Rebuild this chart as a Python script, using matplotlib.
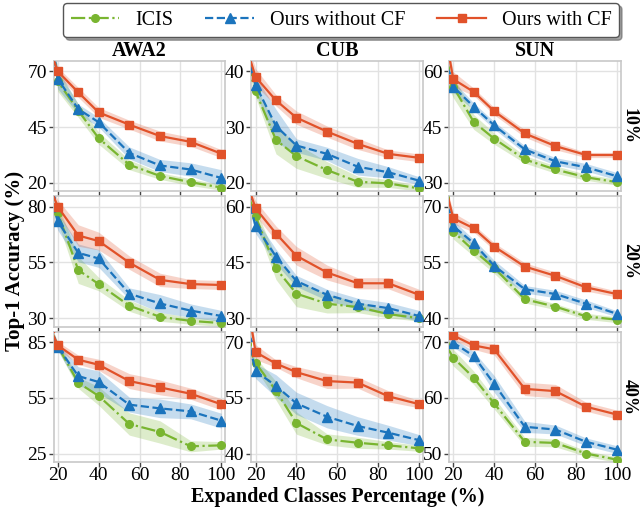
import matplotlib
matplotlib.use("Agg")
import matplotlib.pyplot as plt
import numpy as np

plt.rcParams['font.family'] = ['Liberation Serif', 'DejaVu Serif']
plt.rcParams['mathtext.fontset'] = 'stix'

# ---------------- data ----------------
x_pct = [16, 20, 30, 40, 55, 70, 85, 100]
datasets = ['AWA2', 'CUB', 'SUN']
ratios = ['10%', '20%', '40%']
series_names = ['ICIS', 'Ours without CF', 'Ours with CF']
x_ticks = [20, 40, 60, 80, 100]

# AWA2
awa2_10_icis = [92, 65.5, 52.4, 40.0, 28.1, 23.1, 20.3, 17.9]
awa2_10_wo = [90, 66.6, 53.1, 47.2, 33.4, 27.8, 26.0, 22.2]
awa2_10_w = [80, 70.0, 60.6, 51.6, 46.1, 41.0, 38.4, 33.1]
awa2_10_icis_sd = [4.5, 4.5, 3, 2.7, 2.2, 1.5, 1.5, 1.2]
awa2_10_wo_sd = [4.5, 4.5, 2.2, 2.2, 2.7, 2.7, 3, 3.7]
awa2_10_w_sd = [2, 1.8, 2.2, 2.2, 2, 2.2, 2, 1.8]

awa2_20_icis = [84, 77.1, 51.6, 45.3, 35.6, 30.6, 28.8, 27.8]
awa2_20_wo = [86, 73.4, 59.3, 56.8, 41.0, 36.6, 33.4, 31.0]
awa2_20_w = [89, 80.0, 67.1, 64.6, 54.9, 47.2, 45.3, 44.9]
awa2_20_icis_sd = [4, 4, 6, 3, 2.5, 2, 1.5, 1.5]
awa2_20_wo_sd = [4, 4, 4, 4, 2.6, 4, 3, 2.5]
awa2_20_w_sd = [3, 3, 4.8, 4, 3, 3, 2, 2]

awa2_40_icis = [93.3, 82.8, 63.1, 56.0, 40.9, 36.6, 28.9, 29.4]
awa2_40_wo = [94, 82.3, 66.7, 63.5, 51.3, 49.3, 47.7, 42.7]
awa2_40_w = [92.7, 83.2, 75.5, 72.8, 64.0, 60.6, 57.2, 51.5]
awa2_40_icis_sd = [2, 2, 3, 5, 6, 6, 3, 2]
awa2_40_wo_sd = [2, 2, 5, 6, 4, 5, 4, 4]
awa2_40_w_sd = [2, 2, 2.5, 3, 4, 4, 3, 3]

# CUB
cub_10_icis = [41.6, 36.4, 27.7, 24.8, 22.3, 20.2, 19.9, 19.0]
cub_10_wo = [42.9, 37.6, 30.2, 26.7, 25.2, 22.9, 21.9, 20.4]
cub_10_w = [43.8, 39.0, 34.8, 31.7, 29.2, 27.0, 25.2, 24.5]
cub_10_icis_sd = [1, 1, 2.5, 2.2, 1.5, 1, 0.7, 0.5]
cub_10_wo_sd = [1.5, 1.5, 3, 1.2, 1.2, 1.5, 1, 0.7]
cub_10_w_sd = [1.5, 1.5, 1, 1.2, 1, 1, 0.7, 0.7]

cub_20_icis = [63.8, 57.5, 43.4, 36.6, 33.9, 33.0, 31.1, 30.0]
cub_20_wo = [63.3, 54.8, 46.6, 40.0, 36.3, 33.9, 32.7, 30.6]
cub_20_w = [66.1, 59.6, 52.8, 46.8, 42.3, 39.4, 39.4, 36.3]
cub_20_icis_sd = [2, 2, 3, 3.5, 2.5, 1.5, 1, 0.8]
cub_20_wo_sd = [2, 2, 2, 1.5, 1.5, 1.5, 1.5, 1.5]
cub_20_w_sd = [2, 2, 2, 2.5, 2, 1.5, 1.5, 1.5]

cub_40_icis = [69.4, 64.4, 56.9, 48.2, 43.8, 42.9, 42.2, 41.4]
cub_40_wo = [71.7, 62.2, 58.2, 53.5, 49.9, 47.4, 45.6, 43.6]
cub_40_w = [80.8, 67.3, 64.2, 61.9, 59.5, 59.1, 55.4, 53.3]
cub_40_icis_sd = [1.5, 1.5, 2.5, 3, 1.5, 1.5, 1, 0.8]
cub_40_wo_sd = [2, 2, 3, 3, 3, 2.5, 2, 1.5]
cub_40_w_sd = [2, 2, 1, 1.5, 2, 1.5, 1.5, 1]

# SUN
sun_10_icis = [60.9, 55.9, 46.4, 41.9, 36.3, 33.6, 31.5, 30.2]
sun_10_wo = [60.9, 55.9, 50.5, 45.5, 39.0, 35.8, 34.2, 31.8]
sun_10_w = [70.4, 57.9, 54.5, 49.3, 43.3, 39.9, 37.5, 37.5]
sun_10_icis_sd = [3, 3, 2, 1.5, 1, 1, 0.8, 0.8]
sun_10_wo_sd = [1.5, 1.5, 1, 1, 1, 1, 1, 1]
sun_10_w_sd = [2, 2, 1, 1, 1, 1, 0.7, 0.7]

sun_20_icis = [72.3, 63.3, 58.2, 53.6, 45.1, 43.1, 40.5, 39.6]
sun_20_wo = [70, 64.8, 60.2, 54.1, 47.8, 46.5, 43.9, 41.2]
sun_20_w = [75.7, 66.9, 64.2, 59.3, 53.9, 51.4, 48.3, 46.5]
sun_20_icis_sd = [2, 2, 1.5, 1.5, 1, 0.8, 0.8, 0.8]
sun_20_wo_sd = [1.5, 1.5, 1, 1.5, 1, 1, 1, 0.8]
sun_20_w_sd = [1.5, 1.5, 1, 1, 1, 1, 1, 0.8]

sun_40_icis = [69.7, 67.2, 63.6, 59.0, 52.1, 51.9, 50.0, 48.9]
sun_40_wo = [71.7, 69.9, 67.5, 62.5, 54.8, 54.3, 52.1, 50.7]
sun_40_w = [72.5, 71.2, 69.4, 68.7, 61.6, 61.2, 58.4, 57.0]
sun_40_icis_sd = [1.5, 1.5, 1.2, 1, 0.8, 0.7, 0.5, 0.5]
sun_40_wo_sd = [0.8, 0.8, 0.8, 1.5, 1, 0.8, 0.7, 0.7]
sun_40_w_sd = [0.8, 0.8, 0.7, 1, 1.2, 1.2, 0.8, 0.8]

# y tick values per panel (rows: 10%, 20%, 40%; cols: AWA2, CUB, SUN)
awa2_yticks = [[20, 45, 70], [30, 55, 80], [25, 55, 85]]
cub_yticks = [[20, 30, 40], [30, 45, 60], [40, 55, 70]]
sun_yticks = [[30, 45, 60], [40, 55, 70], [50, 60, 70]]

# ---------------- assemble ----------------
panels = {
    ('AWA2', 0): ([awa2_10_icis, awa2_10_wo, awa2_10_w], [awa2_10_icis_sd, awa2_10_wo_sd, awa2_10_w_sd]),
    ('AWA2', 1): ([awa2_20_icis, awa2_20_wo, awa2_20_w], [awa2_20_icis_sd, awa2_20_wo_sd, awa2_20_w_sd]),
    ('AWA2', 2): ([awa2_40_icis, awa2_40_wo, awa2_40_w], [awa2_40_icis_sd, awa2_40_wo_sd, awa2_40_w_sd]),
    ('CUB', 0): ([cub_10_icis, cub_10_wo, cub_10_w], [cub_10_icis_sd, cub_10_wo_sd, cub_10_w_sd]),
    ('CUB', 1): ([cub_20_icis, cub_20_wo, cub_20_w], [cub_20_icis_sd, cub_20_wo_sd, cub_20_w_sd]),
    ('CUB', 2): ([cub_40_icis, cub_40_wo, cub_40_w], [cub_40_icis_sd, cub_40_wo_sd, cub_40_w_sd]),
    ('SUN', 0): ([sun_10_icis, sun_10_wo, sun_10_w], [sun_10_icis_sd, sun_10_wo_sd, sun_10_w_sd]),
    ('SUN', 1): ([sun_20_icis, sun_20_wo, sun_20_w], [sun_20_icis_sd, sun_20_wo_sd, sun_20_w_sd]),
    ('SUN', 2): ([sun_40_icis, sun_40_wo, sun_40_w], [sun_40_icis_sd, sun_40_wo_sd, sun_40_w_sd]),
}
yticks_by_ds = {'AWA2': awa2_yticks, 'CUB': cub_yticks, 'SUN': sun_yticks}

colors = ['#79B530', '#1B74BD', '#E1522A']
styles = ['-.', '--', '-']
markers = ['o', '^', 's']
msizes = [5.5, 6.5, 5.5]

fig, axes = plt.subplots(3, 3, figsize=(6.4, 5.07), dpi=100)
fig.subplots_adjust(left=0.084, right=0.970, top=0.880, bottom=0.089,
                    wspace=0.152, hspace=0.038)

x = np.array(x_pct, dtype=float)
handles = []
for c, ds in enumerate(datasets):
    for r in range(3):
        ax = axes[r, c]
        means, sds = panels[(ds, r)]
        for k in range(3):
            m = np.array(means[k]); s = np.array(sds[k])
            ax.fill_between(x, m - s, m + s, color=colors[k], alpha=0.25, lw=0, zorder=2)
            ln, = ax.plot(x, m, linestyle=styles[k], color=colors[k], marker=markers[k],
                          markersize=msizes[k], lw=1.6, zorder=3, label=series_names[k])
            if r == 0 and c == 0:
                handles.append(ln)
        yt = yticks_by_ds[ds][r]
        R = yt[-1] - yt[0]
        ax.set_ylim(yt[0] - 0.075 * R, yt[-1] + 0.095 * R)
        ax.set_yticks(yt)
        ax.set_xlim(18, 102)
        ax.set_xticks(x_ticks)
        if r < 2:
            ax.set_xticklabels([])
        ax.grid(True, color='#e2e2e2', lw=1.0, zorder=0)
        ax.set_axisbelow(True)
        for sp in ax.spines.values():
            sp.set_color('#c8c8c8')
            sp.set_linewidth(1.2)
        ax.tick_params(axis='both', labelsize=14, length=3.5, width=1.0,
                       color='#444444', pad=1.5)
        ax.tick_params(axis='x', pad=0.5)
        if r == 0:
            ax.set_title(ds, fontsize=14.5, fontweight='bold', pad=2)
        if c == 2:
            ax.text(1.0, 0.5, ratios[r], transform=ax.transAxes, rotation=-90,
                    va='center', ha='left', fontsize=13, fontweight='bold')

fig.text(0.024, 0.485, 'Top-1 Accuracy (%)', rotation=90, va='center', ha='center',
         fontsize=15, fontweight='bold')
fig.text(0.527, 0.019, 'Expanded Classes Percentage (%)', va='center', ha='center',
         fontsize=14.5, fontweight='bold')

leg = fig.legend(handles, series_names, loc='upper center', bbox_to_anchor=(0.533, 0.998),
                 ncol=3, fontsize=14.5, frameon=True, fancybox=True, shadow=True,
                 handlelength=2.4, columnspacing=1.6, borderpad=0.38, handletextpad=0.8,
                 borderaxespad=0.1)
leg.get_frame().set_edgecolor('#555555')
leg.get_frame().set_linewidth(1.0)

fig.savefig('out.png', dpi=100)
